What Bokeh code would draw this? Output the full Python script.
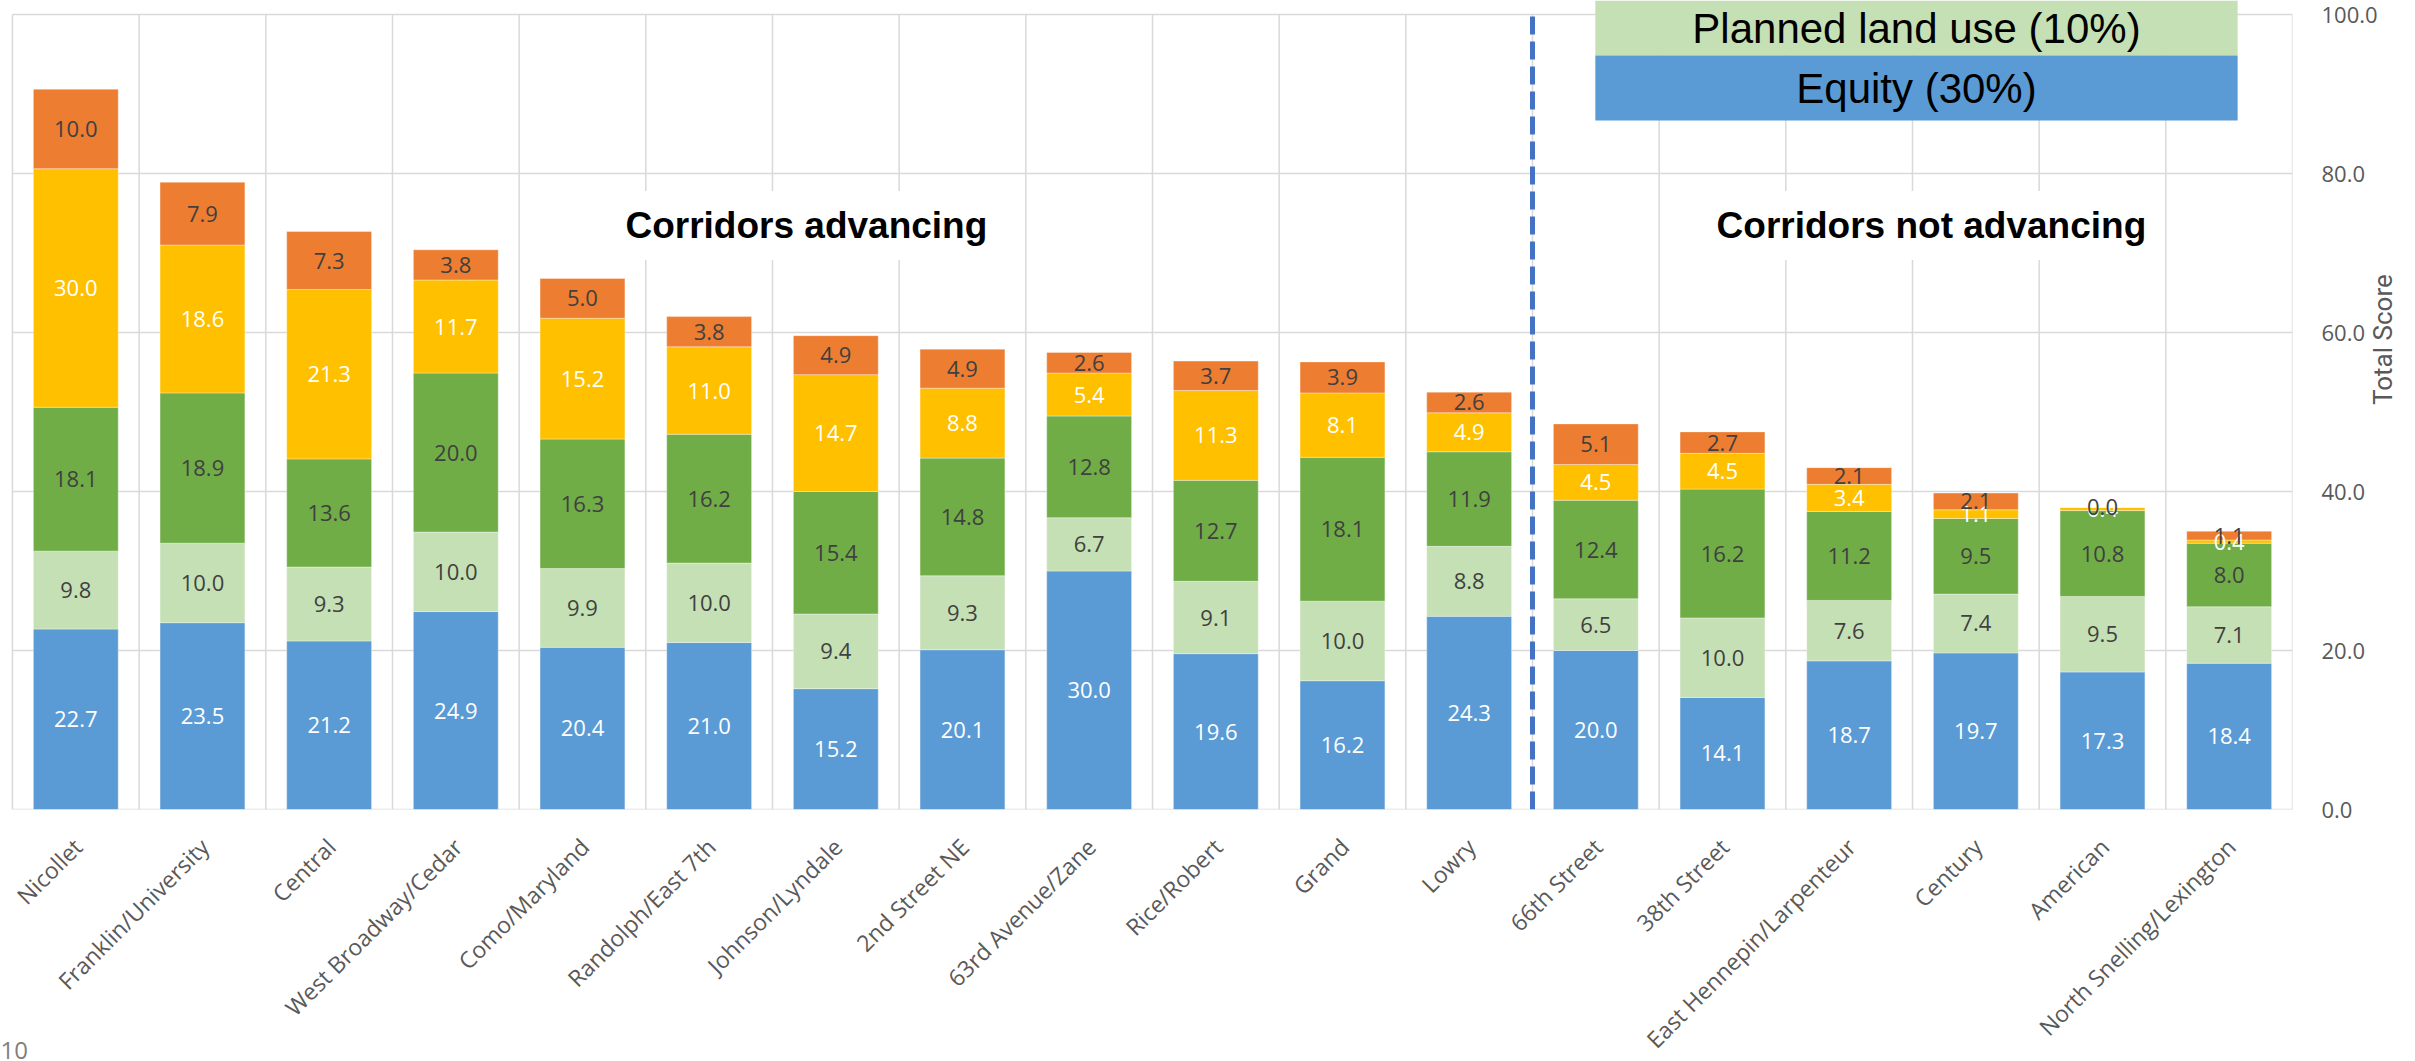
import math
from bokeh.plotting import figure
from bokeh.layouts import column
from bokeh.models import FixedTicker, NumeralTickFormatter, Label, Range1d
from bokeh.embed import file_html
from bokeh.resources import INLINE
from bokeh.core.properties import value

# ---------------- data ----------------
corridors = [
    "Nicollet", "Franklin/University", "Central", "West Broadway/Cedar",
    "Como/Maryland", "Randolph/East 7th", "Johnson/Lyndale", "2nd Street NE",
    "63rd Avenue/Zane", "Rice/Robert", "Grand", "Lowry",
    "66th Street", "38th Street", "East Hennepin/Larpenteur", "Century",
    "American", "North Snelling/Lexington",
]
equity = [22.7, 23.5, 21.2, 24.9, 20.4, 21.0, 15.2, 20.1, 30.0, 19.6, 16.2, 24.3,
          20.0, 14.1, 18.7, 19.7, 17.3, 18.4]
planned_land_use = [9.8, 10.0, 9.3, 10.0, 9.9, 10.0, 9.4, 9.3, 6.7, 9.1, 10.0, 8.8,
                    6.5, 10.0, 7.6, 7.4, 9.5, 7.1]
criterion_green = [18.1, 18.9, 13.6, 20.0, 16.3, 16.2, 15.4, 14.8, 12.8, 12.7, 18.1, 11.9,
                   12.4, 16.2, 11.2, 9.5, 10.8, 8.0]
criterion_yellow = [30.0, 18.6, 21.3, 11.7, 15.2, 11.0, 14.7, 8.8, 5.4, 11.3, 8.1, 4.9,
                    4.5, 4.5, 3.4, 1.1, 0.4, 0.4]
criterion_orange = [10.0, 7.9, 7.3, 3.8, 5.0, 3.8, 4.9, 4.9, 2.6, 3.7, 3.9, 2.6,
                    5.1, 2.7, 2.1, 2.1, 0.0, 1.1]
n_advancing = 12
legend_labels = ["Planned land use (10%)", "Equity (30%)"]
group_labels = ["Corridors advancing", "Corridors not advancing"]
y_ticks = [0, 20, 40, 60, 80, 100]
y_title = "Total Score"
page_number = "10"

# ---------------- geometry / style ----------------
W, H = 2415, 1061
FRAME_L, FRAME_R = 12, 2298          # where category 0 starts / plot area ends
FRAME_B = 809
GRID_TOP_PX = 14
P1_H = FRAME_B + 20
P2_H = H - P1_H
Y_END = 100 * FRAME_B / (FRAME_B - GRID_TOP_PX)
PPU = (FRAME_B - GRID_TOP_PX) / 100.0
N = len(corridors)
PX_X = (FRAME_R - FRAME_L) / N


def y_of_px(py):
    return (FRAME_B - py) / PPU


def x_of_px(px):
    return (px - FRAME_L) / PX_X


GRID = "#D9D9D9"
TXT = "#595959"

x_range = Range1d(-FRAME_L / PX_X, N)

p = figure(width=W, height=P1_H, x_range=x_range, y_range=(0, Y_END),
           y_axis_location="right", x_axis_location=None,
           output_backend="svg", toolbar_location=None,
           min_border_left=0, min_border_right=W - FRAME_R,
           min_border_top=0, min_border_bottom=P1_H - FRAME_B)
p.outline_line_color = None
p.background_fill_color = "white"
p.border_fill_color = "white"
p.grid.visible = False

# grid lines (plot area only)
p.segment(x0=[0] * len(y_ticks), y0=y_ticks, x1=[N] * len(y_ticks), y1=y_ticks,
          line_color=GRID, line_width=1.5)
bounds = list(range(N + 1))
p.segment(x0=bounds, y0=[0] * len(bounds), x1=bounds, y1=[100] * len(bounds),
          line_color=GRID, line_width=1.5)

# bars
xs = [i + 0.5 for i in range(N)]
layers = [equity, planned_land_use, criterion_green, criterion_yellow, criterion_orange]
colors = ["#5B9BD5", "#C5E0B4", "#70AD47", "#FFC000", "#ED7D31"]
label_colors = ["#FFFFFF", "#404040", "#404040", "#FFFFFF", "#404040"]
base = [0.0] * N
texts = []
for vals, col, tcol in zip(layers, colors, label_colors):
    tops = [b + v for b, v in zip(base, vals)]
    p.vbar(x=xs, width=0.67, bottom=base, top=tops, fill_color=col,
           line_color="white", line_alpha=0.35, line_width=1)
    mids = [(b + t) / 2 for b, t in zip(base, tops)]
    texts.append((mids, vals, tcol))
    base = tops
for mids, vals, tcol in texts:
    p.text(x=xs, y=mids, text=[f"{v:.1f}" for v in vals], text_align="center",
           text_baseline="middle", text_font=value("Open Sans"),
           text_font_size="22px", text_color=tcol)

# divider between advancing / not advancing
p.segment(x0=[n_advancing], y0=[0], x1=[n_advancing], y1=[100],
          line_color="#4472C4", line_width=5, line_dash="18 7")

# group labels
for lab, cx in zip(group_labels, [x_of_px(808), x_of_px(1936)]):
    p.add_layout(Label(x=cx, y=y_of_px(225), text=lab, text_align="center",
                       text_baseline="middle", text_font="Liberation Sans",
                       text_font_style="bold", text_font_size="37px",
                       text_color="black", background_fill_color="white",
                       padding=14))

# legend boxes (top cropped in the original)
lx0, lx1 = x_of_px(1599), x_of_px(2243)
p.quad(left=[lx0], right=[lx1], top=[Y_END], bottom=[y_of_px(55)],
       fill_color="#C5E0B4", line_color=None)
p.quad(left=[lx0], right=[lx1], top=[y_of_px(55)], bottom=[y_of_px(120)],
       fill_color="#5B9BD5", line_color=None)
for lab, py in zip(legend_labels, [28, 88]):
    p.add_layout(Label(x=(lx0 + lx1) / 2, y=y_of_px(py), text=lab,
                       text_align="center", text_baseline="middle",
                       text_font="Liberation Sans", text_font_size="42px",
                       text_color="black"))

# right value axis
ya = p.yaxis[0]
ya.ticker = FixedTicker(ticks=y_ticks)
ya.formatter = NumeralTickFormatter(format="0.0")
ya.major_label_text_font = "Open Sans"
ya.major_label_text_font_size = "22px"
ya.major_label_text_color = TXT
ya.major_label_standoff = 29
ya.major_tick_out = 0
ya.major_tick_in = 0
ya.minor_tick_out = 0
ya.minor_tick_in = 0
ya.axis_line_color = None
ya.major_tick_line_color = None
ya.minor_tick_line_color = None
ya.axis_label = y_title
ya.axis_label_text_font = "'Liberation Sans Narrow', Roboto"
ya.axis_label_text_font_size = "26px"
ya.axis_label_text_font_style = "normal"
ya.axis_label_text_color = TXT
ya.axis_label_standoff = 2
if "axis_label_orientation" in ya.properties():
    ya.axis_label_orientation = math.pi / 2

# ---------------- category labels strip (shares the x scale) ----------------
p2 = figure(width=W, height=P2_H, x_range=x_range, y_range=Range1d(0, P2_H),
            x_axis_location=None, y_axis_location=None,
            output_backend="svg", toolbar_location=None,
            min_border_left=0, min_border_right=W - FRAME_R,
            min_border_top=0, min_border_bottom=0)
p2.outline_line_color = None
p2.grid.visible = False
p2.background_fill_color = "white"
p2.border_fill_color = "white"


def y2_of_px(py):
    return P2_H - (py - P1_H)


p2.text(x=xs, y=[y2_of_px(842)] * N, text=corridors, angle=math.pi / 4,
        x_offset=2, text_align="right", text_baseline="middle",
        text_font=value("Open Sans"), text_font_size="23px", text_color=TXT)

# page number at bottom-left
p2.text(x=[-FRAME_L / PX_X], y=[y2_of_px(1058)], text=[page_number],
        text_align="left", text_baseline="bottom", text_font=value("Open Sans"),
        text_font_size="24px", text_color="#7F7F7F")

layout = column(p, p2, spacing=0)
open("out.html", "w").write(file_html(layout, INLINE))
